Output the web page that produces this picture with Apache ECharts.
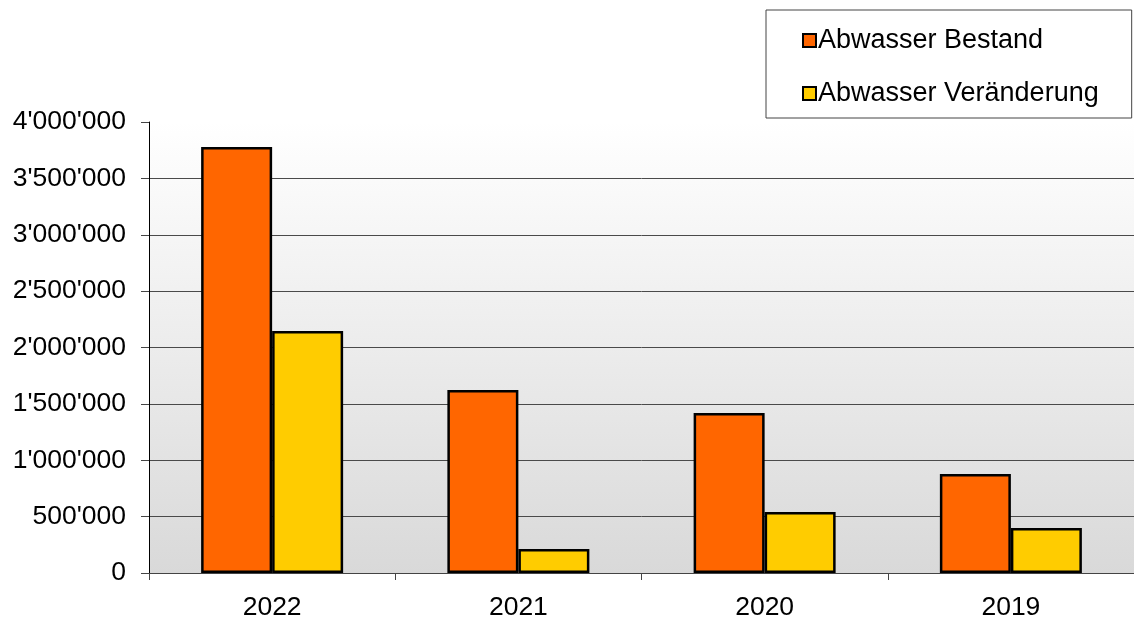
<!DOCTYPE html>
<html><head><meta charset="utf-8">
<script src="https://cdn.jsdelivr.net/npm/echarts@6/dist/echarts.min.js"></script>
<style>html,body{margin:0;padding:0;background:#fff}#c{width:1134px;height:617px}</style>
</head><body><div id="c"></div>
<script>
const categories = ['2022', '2021', '2020', '2019'];
const bestand = [3778000, 1623000, 1419000, 878000];
const veraenderung = [2146000, 213000, 541000, 399000];
const seriesNames = ['Abwasser Bestand', 'Abwasser Veränderung'];

function fmt(v) {
  return String(v).replace(/\B(?=(\d{3})+(?!\d))/g, "'");
}

const chart = echarts.init(document.getElementById('c'));
const font = 'Liberation Sans, Arial, sans-serif';
chart.setOption({
  animation: false,
  textStyle: { fontFamily: font },
  grid: {
    left: 149, right: 0, top: 122, bottom: 44,
    outerBoundsMode: 'none',
    containLabel: false,
    show: true, borderWidth: 0,
    backgroundColor: {
      type: 'linear', x: 0, y: 0, x2: 0, y2: 1,
      colorStops: [{ offset: 0, color: '#ffffff' }, { offset: 1, color: '#d9d9d9' }]
    }
  },
  legend: {
    orient: 'vertical',
    left: 766, top: 10,
    padding: [17, 33, 11, 36],
    backgroundColor: '#ffffff',
    borderColor: '#444',
    borderWidth: 1,
    itemWidth: 13, itemHeight: 13,
    itemGap: 26,
    textStyle: { fontSize: 27, color: '#000', fontFamily: font, padding: [0, 0, 0, -3] },
    data: seriesNames.map(n => ({ name: n, icon: 'rect' }))
  },
  xAxis: {
    type: 'category',
    data: categories,
    axisLine: { show: true, lineStyle: { color: '#444', width: 1 } },
    axisTick: { show: true, length: 7, lineStyle: { color: '#444' } },
    axisLabel: { fontSize: 26.5, color: '#000', margin: 21, fontFamily: font }
  },
  yAxis: {
    type: 'value',
    min: 0, max: 4000000, interval: 500000,
    axisLine: { show: true, lineStyle: { color: '#000', width: 1 } },
    axisTick: { show: true, length: 8, lineStyle: { color: '#444' } },
    axisLabel: { fontSize: 26.5, color: '#000', margin: 23, formatter: fmt, fontFamily: font, padding: [3, 0, 0, 0] },
    splitLine: { show: true, showMaxLine: false, lineStyle: { color: '#4a4a4a', width: 1 } }
  },
  series: [
    {
      name: seriesNames[0], type: 'bar', data: bestand,
      barGap: '0%', barWidth: 71,
      itemStyle: { color: '#ff6600', borderColor: '#000', borderWidth: 2.5 }
    },
    {
      name: seriesNames[1], type: 'bar', data: veraenderung,
      barWidth: 71,
      itemStyle: { color: '#ffcc00', borderColor: '#000', borderWidth: 2.5 }
    }
  ]
});
</script></body></html>
